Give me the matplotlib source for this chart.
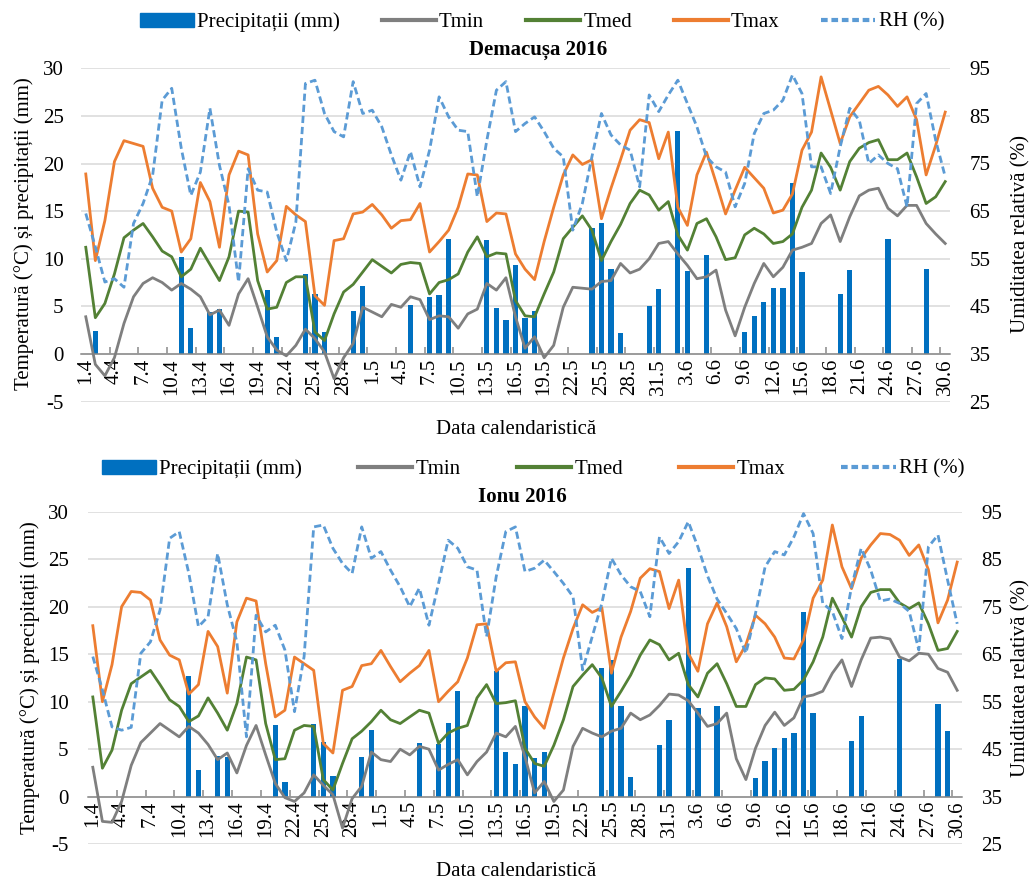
import numpy as np
import pandas as pd
import matplotlib
matplotlib.use('Agg')
import matplotlib.pyplot as plt
from matplotlib.lines import Line2D
from matplotlib.patches import Patch

plt.rcParams['font.family'] = ['Liberation Serif', 'DejaVu Serif']
plt.rcParams['axes.unicode_minus'] = False

zile = [f'{d.day}.{d.month}' for d in pd.date_range('2016-04-01', '2016-06-30')]

# Demacușa 2016
prec_dem = [0, 2.4, 0, 0, 0, 0, 0, 0, 0, 0,
            10.2, 2.7, 0, 4.4, 4.7, 0, 0, 0, 0, 6.7,
            1.8, 0, 0, 8.4, 6.3, 2.3, 0, 0, 4.5, 7.1,
            0, 0, 0, 0, 5.1, 0, 6.0, 6.2, 12.1, 0,
            0, 0, 12.0, 4.8, 3.6, 9.3, 3.8, 4.5, 0, 0,
            0, 0, 0, 13.2, 13.7, 8.9, 2.2, 0, 0, 5.0,
            6.8, 0, 23.4, 8.7, 0, 10.4, 0, 0, 0, 2.3,
            4.0, 5.4, 6.9, 6.9, 17.9, 8.6, 0, 0, 0, 6.3,
            8.8, 0, 0, 0, 12.1, 0, 0, 0, 8.9, 0,
            0]
tmin_dem = [3.9, -1.1, -2.3, -0.4, 3.2, 6.0, 7.4, 8.0, 7.5, 6.7,
            7.4, 6.8, 6.0, 4.1, 4.6, 3.0, 6.3, 7.9, 4.9, 1.8,
            0.4, -0.2, 0.9, 2.6, 1.6, 0.2, -2.6, -0.4, 1.1, 4.9,
            4.4, 3.9, 5.2, 4.9, 6.0, 5.7, 3.6, 4.0, 3.9, 2.7,
            4.2, 4.7, 7.4, 6.7, 8.0, 3.9, 0.6, 1.8, -0.4, 0.9,
            4.9, 7.0, 6.9, 6.8, 7.6, 7.7, 9.5, 8.5, 8.9, 10.0,
            11.6, 11.8, 10.5, 9.3, 7.9, 8.1, 8.8, 4.6, 1.9, 4.9,
            7.4, 9.5, 8.1, 9.1, 10.9, 11.2, 11.6, 13.7, 14.6, 11.8,
            14.4, 16.6, 17.2, 17.4, 15.3, 14.5, 15.6, 15.6, 13.7, 12.6,
            11.6]
tmed_dem = [11.2, 3.8, 5.3, 8.4, 12.2, 13.0, 13.7, 12.3, 10.8, 10.2,
            8.1, 8.9, 11.1, 9.4, 7.7, 10.2, 15.0, 14.9, 7.7, 4.7,
            4.9, 7.5, 8.1, 8.1, 2.3, 1.4, 4.2, 6.5, 7.3, 8.6,
            9.9, 9.2, 8.5, 9.4, 9.6, 9.5, 6.3, 7.5, 7.8, 8.4,
            10.7, 12.3, 10.2, 10.6, 10.5, 5.6, 4.0, 3.9, 6.3, 8.6,
            12.1, 13.3, 14.5, 13.0, 9.8, 11.8, 13.6, 15.8, 17.2, 16.7,
            15.1, 16.0, 12.5, 10.9, 13.7, 14.2, 12.3, 9.9, 10.1, 12.5,
            13.2, 12.6, 11.6, 11.8, 12.6, 15.4, 17.2, 21.1, 19.6, 17.2,
            20.2, 21.6, 22.2, 22.5, 20.4, 20.4, 21.1, 18.6, 15.8, 16.5,
            18.1]
tmax_dem = [18.9, 9.8, 14.0, 20.2, 22.4, 22.1, 21.8, 17.4, 15.4, 15.0,
            10.7, 12.1, 18.0, 16.0, 11.2, 18.8, 21.3, 20.9, 12.6, 8.6,
            9.8, 15.5, 14.6, 13.9, 6.1, 5.1, 11.9, 12.1, 14.7, 14.9,
            15.7, 14.6, 13.2, 14.0, 14.1, 15.8, 10.7, 11.8, 13.0, 15.4,
            18.9, 18.8, 13.9, 14.8, 14.7, 10.5, 8.9, 7.8, 11.8, 15.4,
            18.8, 20.9, 19.9, 20.4, 14.2, 17.4, 20.4, 23.5, 24.6, 24.3,
            20.5, 23.3, 15.4, 13.5, 18.8, 21.2, 18.0, 14.7, 17.2, 19.6,
            18.5, 17.4, 14.8, 15.1, 16.8, 21.4, 23.3, 29.1, 25.6, 22.1,
            24.9, 26.3, 27.7, 28.1, 27.2, 26.0, 27.0, 24.6, 18.8, 21.9,
            25.4]
rh_dem = [64.5, 57.5, 50.1, 50.8, 49.0, 62.4, 66.6, 72.5, 88.3, 90.8,
          78.2, 68.3, 73.2, 86.6, 74.6, 66.2, 50.1, 73.9, 69.4, 69.0,
          60.6, 54.6, 62.7, 91.8, 92.5, 85.5, 81.7, 80.6, 92.2, 85.5,
          86.2, 82.7, 76.8, 71.5, 77.5, 70.1, 77.8, 89.0, 84.8, 82.0,
          81.7, 68.0, 79.9, 90.4, 92.2, 81.7, 83.4, 84.8, 81.7, 78.2,
          76.4, 61.0, 66.6, 76.4, 85.5, 81.0, 78.9, 77.8, 70.1, 89.4,
          85.9, 89.4, 92.5, 87.6, 82.7, 76.4, 74.3, 73.2, 65.9, 70.8,
          81.3, 85.5, 86.2, 88.3, 93.6, 89.7, 74.3, 74.3, 68.7, 78.5,
          86.6, 84.1, 75.0, 76.8, 75.0, 73.9, 65.9, 87.6, 89.7, 79.9,
          72.2]

# Ionu 2016
prec_ion = [0, 0, 0, 0, 0, 0, 0, 0, 0, 0,
            12.7, 2.8, 0, 4.3, 4.2, 0, 0, 0, 0, 7.6,
            1.5, 0, 0, 7.7, 5.8, 2.2, 0, 0, 4.2, 7.0,
            0, 0, 0, 0, 5.7, 0, 5.6, 7.8, 11.1, 0,
            0, 0, 13.2, 4.7, 3.4, 9.6, 4.1, 4.7, 0, 0,
            0, 0, 0, 13.5, 14.4, 9.5, 2.1, 0, 0, 5.4,
            8.1, 0, 24.1, 9.3, 0, 9.6, 0, 0, 0, 2.0,
            3.8, 5.1, 6.2, 6.7, 19.4, 8.8, 0, 0, 0, 5.9,
            8.5, 0, 0, 0, 14.5, 0, 0, 0, 9.8, 6.9,
            0]
tmin_ion = [3.1, -2.6, -2.7, -0.5, 3.3, 5.7, 6.7, 7.7, 7.0, 6.3,
            7.4, 6.7, 5.5, 3.9, 4.6, 2.5, 5.4, 7.5, 4.4, 1.4,
            -0.1, -0.5, 0.4, 2.3, 1.2, 0.2, -3.3, -0.2, 1.1, 4.7,
            3.9, 3.7, 5.0, 4.4, 5.3, 5.0, 2.8, 3.4, 3.9, 2.3,
            3.7, 4.7, 6.7, 6.3, 7.4, 4.2, 0.4, 1.6, -0.5, 0.7,
            5.3, 7.2, 6.7, 6.3, 6.9, 7.2, 8.8, 8.1, 8.6, 9.6,
            10.8, 10.7, 10.1, 8.8, 7.4, 7.7, 8.8, 4.0, 1.8, 5.1,
            7.5, 8.9, 7.5, 8.3, 10.5, 10.7, 11.1, 13.0, 14.4, 11.6,
            14.4, 16.7, 16.8, 16.6, 14.7, 14.3, 15.1, 15.0, 13.5, 13.1,
            11.2]
tmed_ion = [10.5, 3.0, 4.9, 9.1, 11.9, 12.6, 13.3, 11.8, 10.2, 9.5,
            7.9, 8.5, 10.4, 8.8, 7.0, 9.8, 14.7, 14.4, 7.7, 3.9,
            4.0, 7.0, 7.5, 7.4, 1.8, 0.7, 3.5, 6.1, 6.9, 7.9,
            9.1, 8.1, 7.7, 8.4, 9.1, 8.8, 5.6, 6.7, 7.2, 7.5,
            10.4, 11.8, 9.8, 9.9, 10.1, 5.1, 3.5, 3.2, 5.4, 8.1,
            11.6, 12.8, 13.9, 12.5, 9.5, 11.1, 12.8, 14.9, 16.5, 16.0,
            14.4, 15.1, 11.8, 10.5, 13.0, 14.0, 11.9, 9.5, 9.5, 11.8,
            12.5, 12.4, 11.2, 11.3, 12.3, 14.2, 16.8, 20.9, 18.9, 16.8,
            20.0, 21.5, 21.8, 21.8, 20.4, 19.8, 20.4, 18.2, 15.4, 15.6,
            17.4]
tmax_ion = [18.0, 10.0, 13.9, 20.0, 21.6, 21.5, 20.7, 16.5, 14.9, 14.4,
            10.8, 11.8, 17.4, 15.8, 10.9, 18.4, 20.9, 20.6, 14.0, 8.4,
            9.1, 14.7, 14.0, 13.3, 5.6, 4.6, 11.2, 11.6, 13.8, 14.0,
            15.4, 13.7, 12.1, 13.0, 13.8, 15.4, 10.0, 11.1, 12.1, 14.6,
            18.1, 18.2, 13.2, 14.1, 14.2, 10.0, 8.4, 7.2, 10.9, 14.6,
            17.7, 20.2, 19.4, 19.9, 13.0, 16.8, 19.5, 23.0, 24.0, 23.7,
            19.8, 22.8, 15.1, 13.2, 18.2, 20.4, 17.9, 14.2, 16.0, 19.1,
            18.2, 16.8, 14.6, 14.5, 16.5, 20.9, 22.8, 28.6, 24.2, 21.9,
            25.1, 26.5, 27.7, 27.6, 27.0, 25.4, 26.5, 23.9, 18.3, 20.7,
            24.7]
rh_ion = [64.5, 57.5, 49.7, 49.0, 49.6, 65.2, 67.6, 74.3, 89.4, 90.8,
          82.0, 70.8, 72.9, 86.2, 75.4, 67.6, 47.6, 73.2, 69.7, 71.1,
          65.9, 52.9, 64.5, 91.8, 92.2, 87.3, 84.1, 82.0, 91.8, 85.2,
          86.6, 82.7, 79.2, 75.0, 78.9, 71.1, 79.9, 89.0, 87.3, 83.4,
          82.7, 68.7, 81.3, 90.8, 91.8, 82.4, 83.1, 84.8, 82.4, 79.9,
          77.1, 61.7, 68.7, 75.7, 85.2, 81.7, 79.2, 78.2, 72.9, 89.7,
          86.2, 88.7, 92.9, 87.6, 81.5, 76.6, 73.6, 70.4, 65.2, 73.6,
          83.4, 86.6, 85.9, 89.7, 94.6, 90.4, 75.7, 74.0, 68.3, 79.2,
          87.3, 82.7, 76.2, 76.6, 75.7, 74.0, 65.9, 87.6, 90.1, 80.6,
          71.4]

col = {'prec': '#0070C0', 'tmin': '#7F7F7F', 'tmed': '#538135',
       'tmax': '#ED7D31', 'rh': '#5B9BD5', 'grid': '#D9D9D9', 'ax': '#898989'}
fs = 15
W, H = 1032, 883
rh_ls = (0, (2.6, 1.4))


def fx(px):
    return px / W


def fy(py):
    return 1 - py / H


def panel(fig, x0, x1, y_top, y_bot, prec, tmin, tmed, tmax, rh, pad_l, pad_r):
    ax = fig.add_axes([fx(x0), fy(y_bot), fx(x1 - x0), (y_bot - y_top) / H])
    x = np.arange(len(zile))
    ax.bar(x, prec, width=0.55, color=col['prec'], zorder=2)
    ax.plot(x, tmin, color=col['tmin'], lw=2.0, zorder=3)
    ax.plot(x, tmed, color=col['tmed'], lw=2.0, zorder=3)
    ax.plot(x, tmax, color=col['tmax'], lw=2.0, zorder=3)
    ax.set_xlim(-0.5, len(zile) - 0.5)
    ax.set_ylim(-5, 30)
    ax.set_yticks(range(-5, 31, 5))
    ax.grid(axis='y', color=col['grid'], lw=1.1)
    ax.set_axisbelow(True)
    for s in ['top', 'left', 'right']:
        ax.spines[s].set_visible(False)
    ax.spines['bottom'].set_position(('data', 0))
    ax.spines['bottom'].set_color(col['ax'])
    ax.spines['bottom'].set_linewidth(1.1)
    ax.set_xticks(x[::3])
    ax.set_xticklabels(zile[::3], rotation=90)
    ax.set_xticks(np.arange(2.5, len(zile) - 1, 3), minor=True)
    ax.tick_params(axis='x', which='major', length=0, pad=3, labelsize=fs)
    ax.tick_params(axis='x', which='minor', direction='in', length=5,
                   color=col['ax'], width=1.1)
    ax.tick_params(axis='y', length=0, pad=pad_l, labelsize=fs)

    ax2 = ax.twinx()
    ax2.plot(x, rh, color=col['rh'], lw=2.0, ls=rh_ls, zorder=3)
    ax2.set_ylim(25, 95)
    ax2.set_yticks(range(25, 96, 10))
    ax2.tick_params(axis='y', length=0, pad=pad_r, labelsize=fs)
    for s in ax2.spines.values():
        s.set_visible(False)
    return ax


def legenda(fig, cx, cy, spacing):
    handles = [Patch(color=col['prec']),
               Line2D([], [], color=col['tmin'], lw=3),
               Line2D([], [], color=col['tmed'], lw=3),
               Line2D([], [], color=col['tmax'], lw=3),
               Line2D([], [], color=col['rh'], lw=3, ls=(0, (1.6, 0.9)))]
    labels = ['Precipitații (mm)', 'Tmin', 'Tmed', 'Tmax', 'RH (%)']
    fig.legend(handles, labels, loc='center', bbox_to_anchor=(fx(cx), fy(cy)),
               ncol=5, frameon=False, fontsize=fs, handlelength=2.6,
               handleheight=0.65, handletextpad=0.15, columnspacing=spacing,
               borderaxespad=0)


fig = plt.figure(figsize=(W / 100, H / 100), dpi=100)

panel(fig, 81, 950, 68.3, 401.5, prec_dem, tmin_dem, tmed_dem, tmax_dem, rh_dem, 12.5, 14)
panel(fig, 88, 962, 511.7, 844.2, prec_ion, tmin_ion, tmed_ion, tmax_ion, rh_ion, 14, 14)

legenda(fig, 542, 22, 2.0)
legenda(fig, 533, 469, 2.7)

fig.text(fx(538), fy(50), 'Demacușa 2016', ha='center', va='center', fontsize=fs, fontweight='bold')
fig.text(fx(522), fy(497), 'Ionu 2016', ha='center', va='center', fontsize=fs, fontweight='bold')

for yc in (429, 872):
    fig.text(fx(516), fy(yc), 'Data calendaristică', ha='center', va='center', fontsize=fs)
for xc, yc in ((24, 234), (30, 678)):
    fig.text(fx(xc), fy(yc), 'Temperatură (°C) și precipitații (mm)', ha='center', va='center',
             rotation=90, fontsize=fs)
for yc in (234, 678):
    fig.text(fx(1021), fy(yc), 'Umiditatea relativă (%)', ha='center', va='center',
             rotation=90, fontsize=fs)

fig.savefig('out.png', dpi=100)
